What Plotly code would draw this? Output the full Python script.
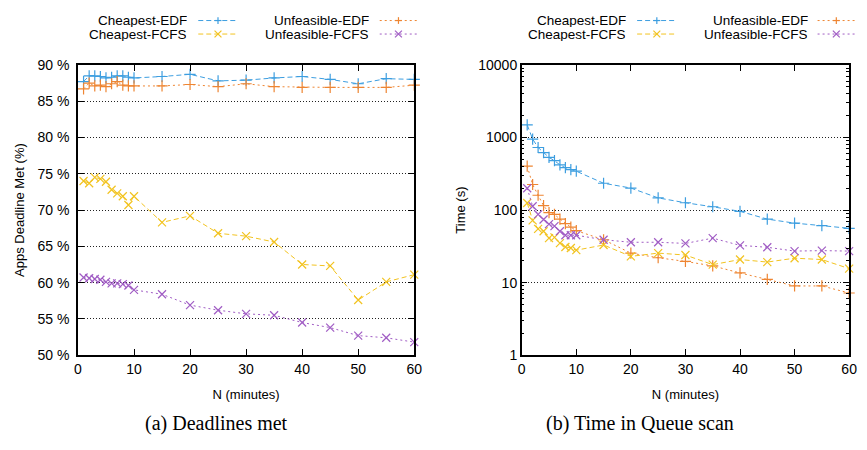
import plotly.graph_objects as go

N = [1, 2, 3, 4, 5, 6, 7, 8, 9, 10, 15, 20, 25, 30, 35, 40, 45, 50, 55, 60]

# (a) Deadlines met (%)
met_cheapest_edf = [87.7, 88.5, 88.5, 88.4, 88.2, 88.3, 88.5, 88.5, 88.3, 88.2,
                    88.4, 88.7, 87.8, 87.9, 88.2, 88.4, 88.0, 87.4, 88.1, 88.0]
met_unfeasible_edf = [86.7, 87.5, 87.1, 87.2, 87.0, 87.4, 87.7, 87.2, 87.1, 87.1,
                      87.1, 87.3, 87.0, 87.4, 87.0, 86.9, 86.9, 86.9, 86.9, 87.2]
met_cheapest_fcfs = [74.0, 73.7, 74.5, 74.3, 73.9, 72.8, 72.3, 71.9, 70.7, 71.9,
                     68.3, 69.2, 66.8, 66.4, 65.6, 62.5, 62.3, 57.6, 60.1, 61.1]
met_unfeasible_fcfs = [60.7, 60.6, 60.5, 60.4, 60.1, 59.9, 59.9, 59.8, 59.6, 59.0,
                       58.4, 56.9, 56.2, 55.7, 55.5, 54.5, 53.8, 52.7, 52.4, 51.8]

# (b) Time in queue scan (s)
time_cheapest_edf = [1490, 950, 728, 617, 531, 479, 419, 383, 360, 343,
                     234, 201, 147, 126, 111, 96, 75, 66, 61, 56]
time_unfeasible_edf = [403, 225, 160, 115, 92, 87, 75, 65, 58, 52,
                       39, 25.5, 22, 19.6, 17, 13.6, 11.1, 9.0, 9.0, 7.2]
time_cheapest_fcfs = [125, 72, 55, 51, 41, 42, 35, 31, 30, 28,
                      33, 23, 25.5, 24, 17.7, 20.8, 19.2, 21.7, 20.8, 15.6]
time_unfeasible_fcfs = [200, 113, 87, 74, 64, 60, 51, 45, 45, 45,
                        39, 36, 36, 34.7, 41, 32.6, 30.7, 27.2, 27.6, 27.2]

pct_ticks = [50, 55, 60, 65, 70, 75, 80, 85, 90]
pct_labels = [f"{v} %" for v in pct_ticks]
time_ticks = [1, 10, 100, 1000, 10000]
time_labels = ["1", "10", "100", "1000", "10000"]
time_minor = [m * d for d in [1, 10, 100, 1000] for m in range(2, 10)]
x_ticks = [0, 10, 20, 30, 40, 50, 60]

colors = {"Cheapest-EDF": "#3d9ee0", "Cheapest-FCFS": "#f2c320",
          "Unfeasible-EDF": "#ee8532", "Unfeasible-FCFS": "#a05cc4"}
symbols = {"Cheapest-EDF": "cross-thin", "Cheapest-FCFS": "x-thin",
           "Unfeasible-EDF": "cross-thin", "Unfeasible-FCFS": "x-thin"}
dashes = {"Cheapest-EDF": "5px,3px", "Cheapest-FCFS": "5px,3px",
          "Unfeasible-EDF": "2px,3px", "Unfeasible-FCFS": "2px,3px"}

W, H = 867, 450
fig = go.Figure()

left_data = {"Cheapest-EDF": met_cheapest_edf, "Cheapest-FCFS": met_cheapest_fcfs,
             "Unfeasible-EDF": met_unfeasible_edf, "Unfeasible-FCFS": met_unfeasible_fcfs}
right_data = {"Cheapest-EDF": time_cheapest_edf, "Cheapest-FCFS": time_cheapest_fcfs,
              "Unfeasible-EDF": time_unfeasible_edf, "Unfeasible-FCFS": time_unfeasible_fcfs}

order = ["Cheapest-EDF", "Unfeasible-EDF", "Cheapest-FCFS", "Unfeasible-FCFS"]
for nm in order:
    for xa, ya, data in (("x", "y", left_data), ("x2", "y2", right_data)):
        fig.add_trace(go.Scatter(x=N, y=data[nm], mode="lines+markers", xaxis=xa, yaxis=ya,
                                 line=dict(color=colors[nm], width=1, dash=dashes[nm]),
                                 marker=dict(symbol=symbols[nm], size=8, color=colors[nm],
                                             line=dict(color=colors[nm], width=1.2)),
                                 cliponaxis=False, showlegend=False, name=nm))

# gnuplot-style keys (text, then sample line with point), placed in pixel units
key_layout = [
    ("Cheapest-EDF", 188, 13, 197, 237),
    ("Cheapest-FCFS", 188, 27, 197, 237),
    ("Unfeasible-EDF", 372, 13, 381, 419),
    ("Unfeasible-FCFS", 372, 27, 381, 419),
    ("Cheapest-EDF", 633, 13, 642, 682),
    ("Cheapest-FCFS", 633, 27, 642, 682),
    ("Unfeasible-EDF", 817, 13, 825, 863),
    ("Unfeasible-FCFS", 817, 27, 825, 863),
]


def px(x):
    return x / W


def py(y):
    return 1 - y / H


annotations = []
shapes = []
for nm, tx, ty, x0, x1 in key_layout:
    c = colors[nm]
    shapes.append(dict(type="line", xref="paper", yref="paper", x0=px(x0), x1=px(x1), y0=py(ty), y1=py(ty),
                       line=dict(color=c, width=1, dash=dashes[nm])))
    xm = (x0 + x1) / 2
    s = 3.5
    if symbols[nm] == "cross-thin":
        segs = [(xm - s, ty, xm + s, ty), (xm, ty - s, xm, ty + s)]
    else:
        segs = [(xm - s, ty - s, xm + s, ty + s), (xm - s, ty + s, xm + s, ty - s)]
    for a, b, cc, d in segs:
        shapes.append(dict(type="line", xref="paper", yref="paper", x0=px(a), y0=py(b), x1=px(cc), y1=py(d),
                           line=dict(color=c, width=1.2)))
    annotations.append(dict(x=px(tx), y=py(ty), xref="paper", yref="paper", text=nm,
                            xanchor="right", yanchor="middle", showarrow=False, height=13,
                            font=dict(family="Liberation Sans, Arial", size=13.5, color="black")))

cap_font = dict(family="Liberation Serif, DejaVu Serif", size=20, color="black")
annotations.append(dict(x=px(215), y=py(431), xref="paper", yref="paper", text="(a) Deadlines met",
                        showarrow=False, xanchor="center", yanchor="middle", font=cap_font))
annotations.append(dict(x=px(645), y=py(431), xref="paper", yref="paper", text="(b) Time in Queue scan",
                        showarrow=False, xanchor="center", yanchor="middle", font=cap_font))

ydom = [py(360), py(59)]
tickfont = dict(family="Liberation Sans, Arial", size=14, color="black")
title_font = dict(family="Liberation Sans, Arial", size=13, color="black")
common_x = dict(range=[0, 60], tickvals=x_ticks, ticks="inside", ticklen=6, tickcolor="black",
                showline=True, linecolor="black", linewidth=1.5, mirror="ticks", showgrid=False,
                zeroline=False, tickfont=tickfont,
                title=dict(text="N (minutes)", font=title_font, standoff=14))
common_y = dict(ticks="inside", ticklen=6, tickcolor="black", showline=True, linecolor="black",
                linewidth=1.5, mirror="ticks", showgrid=True, gridcolor="#222222", griddash="1px,2px",
                gridwidth=1, zeroline=False, tickfont=tickfont)

fig.update_layout(
    width=W, height=H, margin=dict(l=0, r=0, t=0, b=0),
    paper_bgcolor="white", plot_bgcolor="white",
    xaxis=dict(domain=[px(75), px(416)], anchor="y", **common_x),
    xaxis2=dict(domain=[px(525), px(857)], anchor="y2", **common_x),
    yaxis=dict(domain=ydom, anchor="x", range=[50, 90], tickvals=pct_ticks, ticktext=pct_labels,
               ticklabelstandoff=4,
               title=dict(text="Apps Deadline Met (%)", font=title_font, standoff=10),
               **common_y),
    yaxis2=dict(domain=ydom, anchor="x2", type="log", range=[0, 4], tickvals=time_ticks, ticktext=time_labels,
                minor=dict(tickvals=time_minor, ticks="inside", ticklen=3, tickcolor="black", showgrid=False),
                title=dict(text="Time (s)", font=title_font, standoff=10),
                **common_y),
    annotations=annotations,
    shapes=shapes,
)

fig.write_html("out.html")
